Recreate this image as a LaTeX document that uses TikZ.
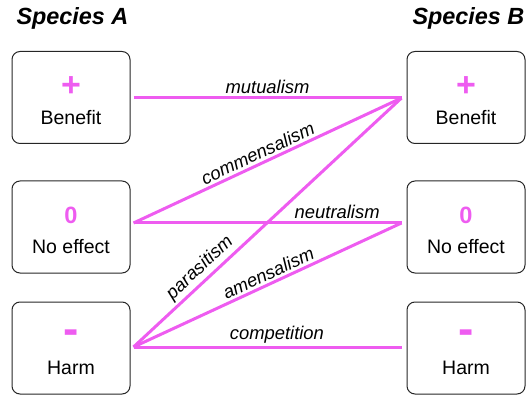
\documentclass[tikz,border=0pt]{standalone}
\usepackage{fontspec}
\setmainfont{Liberation Sans}
\usetikzlibrary{positioning}
\definecolor{linkpink}{RGB}{238,92,240}
\tikzset{
    box/.style = {rectangle, rounded corners=8pt, draw=black!85, line width=1pt, minimum width=118pt, minimum height=92pt, align=center, font=\fontsize{19.5}{30.5}\selectfont},
    title/.style = {font=\fontsize{23.4}{26}\selectfont\bfseries\itshape},
    link/.style = {line width=3pt, linkpink},
    lbl/.style = {black, font=\fontsize{18.4}{20}\selectfont\itshape, inner sep=2.5pt},
}
% #1 size, #2 drop, #3 sign
\newcommand{\effect}[3]{\rule{0pt}{23.5pt}{\fontsize{#1}{30.5}\selectfont\bfseries\color{linkpink}\raisebox{-#2}{#3}}}

\begin{document}
\begin{tikzpicture}[x=1pt, y=-1pt]
  \useasboundingbox (0,0) rectangle (527,395);

  \node[title, anchor=west] (spA) at (13,18) {Species A};
  \node[title, anchor=west] (spB) at (409,18) {Species B};

  % species A
  \node[box] (A1) at (71,97.5) {\effect{34}{3pt}{+}\\Benefit};
  \node[box] (A2) at (71,227) {\effect{23.6}{0pt}{0}\\No effect};
  \node[box] (A3) at (71,348) {\effect{46}{0pt}{-}\\Harm};
  % species B
  \node[box] (B1) at (466,97.5) {\effect{34}{3pt}{+}\\Benefit};
  \node[box] (B2) at (466,227) {\effect{23.6}{0pt}{0}\\No effect};
  \node[box] (B3) at (466,348) {\effect{46}{0pt}{-}\\Harm};

  \coordinate (a1) at ([shift={(3,0.5)}]A1.east);
  \coordinate (a2) at ([shift={(3,-4)}]A2.east);
  \coordinate (a3) at ([shift={(3,-1)}]A3.east);
  \coordinate (b1) at ([shift={(-5,0.5)}]B1.west);
  \coordinate (b2) at ([shift={(-5,-4)}]B2.west);
  \coordinate (b3) at ([shift={(-5,-1)}]B3.west);

  \draw[link] (a1) -- node[lbl, above, pos=0.5] {mutualism} (b1);
  \draw[link] (a2) -- node[lbl, above, sloped, pos=0.48] {commensalism} (b1);
  \draw[link] (a3) -- node[lbl, above, sloped, pos=0.28] {parasitism} (b1);
  \draw[link] (a2) -- node[lbl, above, pos=0.76] {neutralism} (b2);
  \draw[link] (a3) -- node[lbl, above, sloped, pos=0.52] {amensalism} (b2);
  \draw[link] (a3) -- node[lbl, above, pos=0.535] {competition} (b3);
\end{tikzpicture}
\end{document}
